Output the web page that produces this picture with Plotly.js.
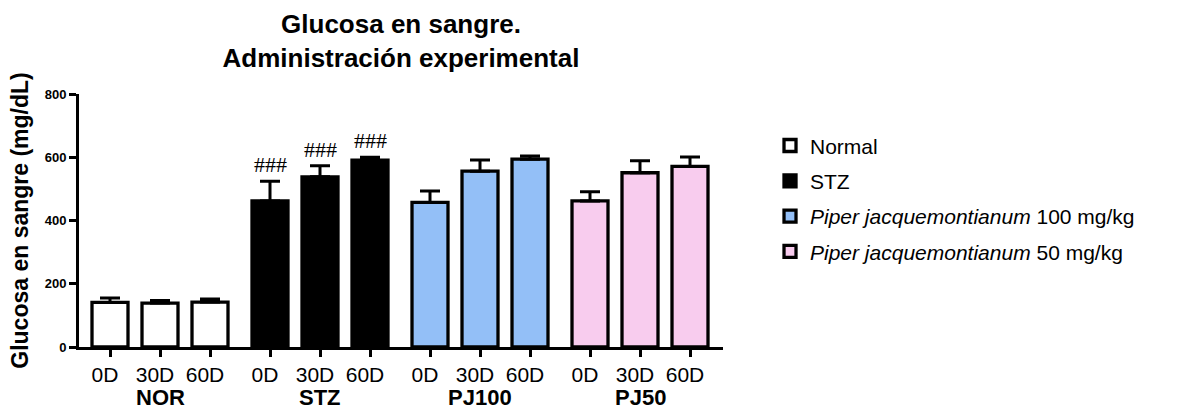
<!DOCTYPE html>
<html>
<head>
<meta charset="utf-8">
<script src="https://cdn.plot.ly/plotly-3.0.1.min.js"></script>
<style>html,body{margin:0;padding:0;background:#fff;}#chart{width:1204px;height:411px;}</style>
</head>
<body>
<div id="chart"></div>
<script>
// ---- data ----
const groups = ['NOR', 'STZ', 'PJ100', 'PJ50'];
const days = ['0D', '30D', '60D'];
const seriesNames = ['Normal', 'STZ', '<i>Piper jacquemontianum</i> 100 mg/kg', '<i>Piper jacquemontianum</i> 50 mg/kg'];
const normalMean = [141, 139, 142];
const normalErr = [14, 8, 10];
const stzMean = [462, 538, 591];
const stzErr = [62, 35, 9];
const pj100Mean = [457, 556, 594];
const pj100Err = [36, 35, 10];
const pj50Mean = [462, 551, 571];
const pj50Err = [29, 38, 30];
const stzMarks = ['###', '###', '###'];

// ---- layout helpers ----
const groupStep = 3.2;
const xPos = (g) => days.map((d, i) => g * groupStep + i);
const fills = ['#ffffff', '#000000', '#93BFF7', '#F8CCEE'];
const means = [normalMean, stzMean, pj100Mean, pj50Mean];
const errs = [normalErr, stzErr, pj100Err, pj50Err];
const FONT = 'Liberation Sans, Arial, sans-serif';

const traces = means.map((m, g) => ({
  type: 'bar',
  name: seriesNames[g],
  legendgroup: 'g' + g,
  x: xPos(g),
  y: m,
  width: 0.72,
  marker: {color: fills[g], line: {color: '#000', width: 3.3}},
  error_y: {type: 'data', symmetric: false, array: errs[g], arrayminus: [0, 0, 0],
            color: '#000', thickness: 3, width: 10},
  hoverinfo: 'x+y'
}));

const tickvals = [].concat(...groups.map((_, g) => xPos(g)));
const ticktext = [].concat(...groups.map(() => days));

const annotations = [];
groups.forEach((name, g) => {
  annotations.push({
    x: g * groupStep + 1, xref: 'x', y: -0.2, yref: 'paper',
    text: '<b>' + name + '</b>', showarrow: false,
    font: {family: FONT, size: 22, color: '#000'}, yanchor: 'middle'
  });
});
stzMarks.forEach((t, i) => {
  annotations.push({
    x: xPos(1)[i], y: stzMean[i] + stzErr[i], xref: 'x', yref: 'y',
    text: t, showarrow: false, yanchor: 'bottom', yshift: 2,
    font: {family: 'Liberation Serif, Times New Roman, serif', size: 22, color: '#000'}
  });
});

const layout = {
  width: 1204, height: 411,
  margin: {l: 79, r: 481, t: 94, b: 64},
  paper_bgcolor: '#fff', plot_bgcolor: '#fff',
  font: {family: FONT, color: '#000'},
  title: {
    text: '<b>Glucosa en sangre.<br>Administración experimental</b>',
    font: {family: FONT, size: 26, color: '#000'},
    x: 0.5, xref: 'paper', xanchor: 'center',
    y: 0.92, yref: 'container', yanchor: 'top'
  },
  xaxis: {
    range: [-0.62, 12.26], showgrid: false, zeroline: false,
    showline: true, linecolor: '#000', linewidth: 3,
    tickmode: 'array', tickvals: tickvals, ticktext: ticktext,
    ticks: 'outside', ticklen: 7, tickwidth: 3, tickcolor: '#000',
    tickfont: {family: FONT, size: 21, color: '#000'},
    ticklabelshift: -5, fixedrange: true
  },
  yaxis: {
    range: [0, 800], showgrid: false, zeroline: false,
    showline: true, linecolor: '#000', linewidth: 3,
    tickmode: 'array', tickvals: [0, 200, 400, 600, 800], ticktext: ['<b>0</b>', '<b>200</b>', '<b>400</b>', '<b>600</b>', '<b>800</b>'],
    ticks: 'outside', ticklen: 7, tickwidth: 3, tickcolor: '#000',
    tickfont: {family: FONT, size: 13, color: '#000'},
    title: {text: '<b>Glucosa en sangre (mg/dL)</b>', font: {family: FONT, size: 23, color: '#000'}, standoff: 10},
    fixedrange: true
  },
  bargap: 0,
  showlegend: true,
  legend: {
    x: 1.073, xanchor: 'left', y: 0.876, yanchor: 'top',
    font: {family: FONT, size: 21, color: '#000'},
    bgcolor: 'rgba(0,0,0,0)', tracegroupgap: 5, traceorder: 'grouped'
  },
  annotations: annotations
};

Plotly.newPlot('chart', traces, layout, {displayModeBar: false, staticPlot: true});
</script>
</body>
</html>
